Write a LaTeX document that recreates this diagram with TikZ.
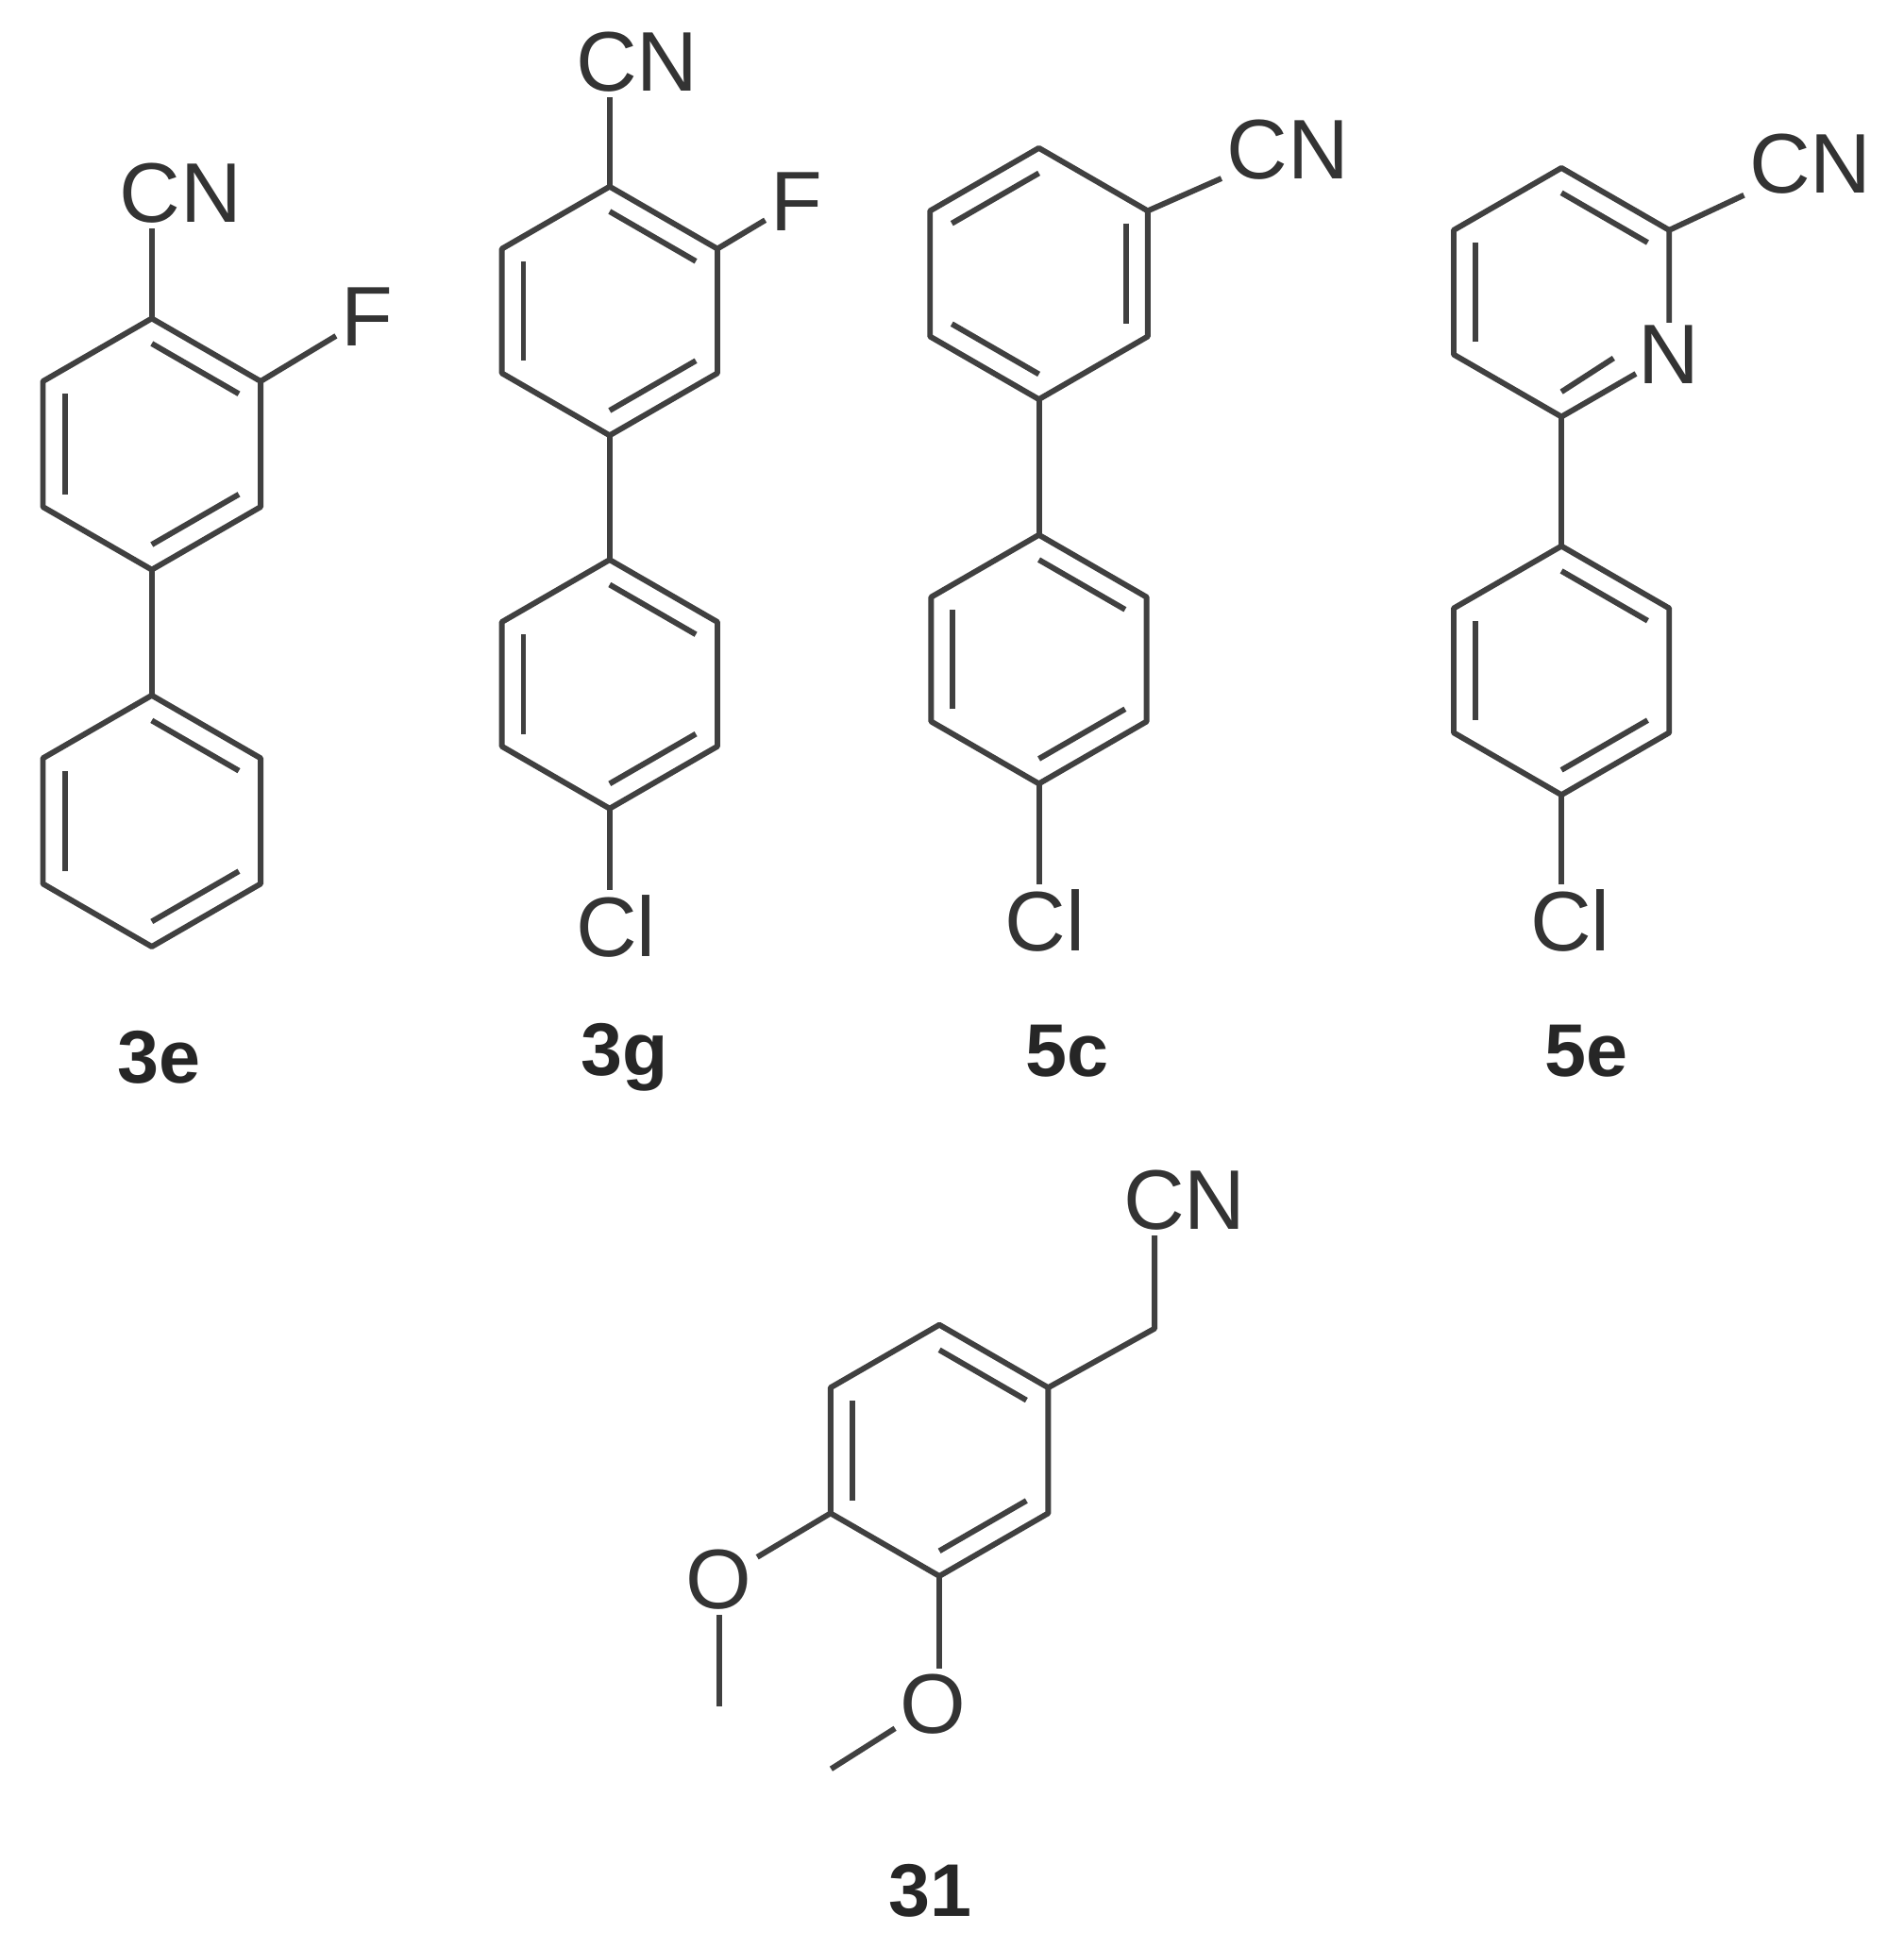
\documentclass[tikz,border=0pt]{standalone}
\usepackage{fontspec}
\setmainfont{Liberation Sans}
\usetikzlibrary{calc}
\newcommand\ring[4]{%
 \coordinate (#1c) at (#2,#3);
 \coordinate (#11) at ($(#1c)+(0,-#4)$);
 \coordinate (#12) at ($(#1c)+(0.866*#4,-0.5*#4)$);
 \coordinate (#13) at ($(#1c)+(0.866*#4,0.5*#4)$);
 \coordinate (#14) at ($(#1c)+(0,#4)$);
 \coordinate (#15) at ($(#1c)+(-0.866*#4,0.5*#4)$);
 \coordinate (#16) at ($(#1c)+(-0.866*#4,-0.5*#4)$);}
\newcommand\hexdraw[1]{\draw[bond] (#11)--(#12)--(#13)--(#14)--(#15)--(#16)--cycle;}
\newcommand\dbl[3]{\draw[bond] ($(#1)!0.2!(#3)$)--($(#2)!0.2!(#3)$);}
\begin{document}
\begin{tikzpicture}[x=1pt,y=-1pt,
 bond/.style={line width=4.5pt,draw=black!75,line join=round},
 atom/.style={font=\fontsize{68}{68}\selectfont,inner sep=4pt,text=black!80},
 lab/.style={font=\fontsize{60}{60}\selectfont\bfseries,text=black!85}]
\useasboundingbox (0,0) rectangle (1530,1566);
% 3e
\ring{a}{122}{357}{101}\ring{b}{122}{660}{101}
\hexdraw{a}\hexdraw{b}
\dbl{a1}{a2}{ac}\dbl{a5}{a6}{ac}\dbl{a3}{a4}{ac}
\dbl{b1}{b2}{bc}\dbl{b5}{b6}{bc}\dbl{b3}{b4}{bc}
\draw[bond] (a4)--(b1);
\node[atom] (aCN) at (145,155) {CN};
\node[atom] (aF) at (295,255) {F};
\draw[bond] (a1)--(a1|-aCN.south);
\draw[bond] (a2)--(aF);
\node[lab] (l3e) at (128,850) {3e};
% 3g
\ring{c}{490}{250}{100}\ring{d}{490}{550}{100}
\hexdraw{c}\hexdraw{d}
\dbl{c1}{c2}{cc}\dbl{c5}{c6}{cc}\dbl{c3}{c4}{cc}
\dbl{d1}{d2}{dc}\dbl{d5}{d6}{dc}\dbl{d3}{d4}{dc}
\draw[bond] (c4)--(d1);
\node[atom] (cCN) at (512,50) {CN};
\node[atom] (cF) at (640,162) {F};
\node[atom] (dCl) at (495,745) {Cl};
\draw[bond] (c1)--(c1|-cCN.south);
\draw[bond] (c2)--(cF);
\draw[bond] (d4)--(d4|-dCl.north);
\node[lab] (l3g) at (502,850) {3g};
% 5c
\ring{e}{835}{220}{101}\ring{f}{835}{530}{100}
\hexdraw{e}\hexdraw{f}
\dbl{e6}{e1}{ec}\dbl{e2}{e3}{ec}\dbl{e4}{e5}{ec}
\dbl{f1}{f2}{fc}\dbl{f5}{f6}{fc}\dbl{f3}{f4}{fc}
\draw[bond] (e4)--(f1);
\node[atom] (eCN) at (1035,120) {CN};
\node[atom] (fCl) at (840,740) {Cl};
\draw[bond] (e2)--(eCN);
\draw[bond] (f4)--(f4|-fCl.north);
\node[lab] (l5c) at (858,845) {5c};
% 5e
\ring{g}{1255}{235}{100}\ring{h}{1255}{539}{100}
\node[atom,inner sep=2pt] (gN) at (g3) {N};
\draw[bond] (gN)--(g2)--(g1)--(g6)--(g5)--(g4)--(gN);
\dbl{g1}{g2}{gc}\dbl{g5}{g6}{gc}
\draw[bond] ($(gN.south west)!0.3!(gc)$)--($(g4)!0.2!(gc)$);
\hexdraw{h}
\dbl{h1}{h2}{hc}\dbl{h5}{h6}{hc}\dbl{h3}{h4}{hc}
\draw[bond] (g4)--(h1);
\node[atom] (gCN) at (1455,132) {CN};
\node[atom] (hCl) at (1262,740) {Cl};
\draw[bond] (g2)--(gCN);
\draw[bond] (h4)--(h4|-hCl.north);
\node[lab] (l5e) at (1275,845) {5e};
% 31
\ring{k}{755}{1166}{101}
\hexdraw{k}
\dbl{k1}{k2}{kc}\dbl{k5}{k6}{kc}\dbl{k3}{k4}{kc}
\coordinate (kch) at (928,1068);
\node[atom] (kCN) at (952,965) {CN};
\draw[bond] (k2)--(kch)--(kch|-kCN.south);
\node[atom] (kO1) at (578,1270) {O};
\coordinate (kme1) at (578,1372);
\draw[bond] (k5)--(kO1);
\draw[bond] (kO1)--(kme1);
\node[atom] (kO2) at (750,1370) {O};
\coordinate (kme2) at (668,1422);
\draw[bond] (k4)--(k4|-kO2.north);
\draw[bond] (kO2)--(kme2);
\node[lab] (l31) at (748,1520) {31};
\end{tikzpicture}
\end{document}
